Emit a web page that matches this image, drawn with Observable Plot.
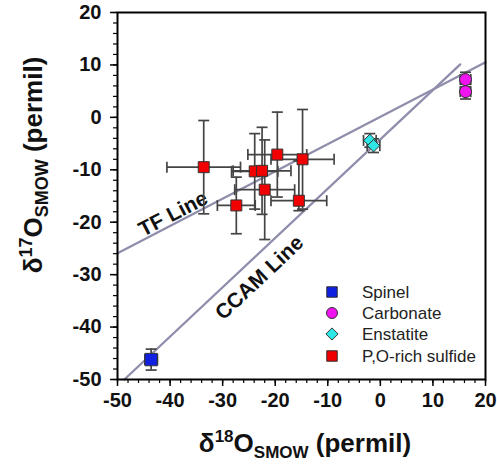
<!DOCTYPE html>
<html><head><meta charset="utf-8">
<script src="https://cdn.jsdelivr.net/npm/d3@7"></script>
<script src="https://cdn.jsdelivr.net/npm/@observablehq/plot@0.6"></script>
<style>body{margin:0;background:#fff}#chart svg{display:block}</style>
</head><body><div id="chart"></div>
<script>
// ---- Data ----
// P,O-rich sulfide
const sulfideX    = [-33.6, -23.9, -22.5, -19.6, -14.8, -22.0, -27.4, -15.5];
const sulfideY    = [ -9.5, -10.3, -10.2,  -7.1,  -8.0, -13.8, -16.8, -15.9];
const sulfideXErr = [  7.0,   4.4,   5.5,   5.6,   6.0,   5.7,   3.6,   5.3];
const sulfideYHi  = [ -0.6,  -3.1,  -1.9,   1.0,   1.5,  -4.3, -11.4,  -8.3];
const sulfideYLo  = [-18.4, -17.5, -18.5, -15.2, -17.5, -23.3, -22.2, -17.8];
// Spinel
const spinelX = [-43.6], spinelY = [-46.2], spinelXErr = [1.2], spinelYErr = [2.0];
// Carbonate
const carbX = [16.2, 16.2], carbY = [7.2, 4.9], carbXErr = [1.0, 1.0], carbYErr = [1.4, 1.4];
// Enstatite
const enstX = [-2.0, -1.3], enstY = [-4.4, -5.4], enstXErr = [1.2, 1.2], enstYErr = [1.3, 1.3];
// Reference lines (end points)
const tfX = [-50, 20], tfY = [-25.9, 10.5];
const ccamX = [-48.7, 15.2], ccamY = [-50, 10.1];
// Line labels
const lineLabels = ["TF Line", "CCAM Line"];
const lineLabelX = [-39.4, -23.0], lineLabelY = [-18.4, -30.6];
// Legend
const legendNames = ["Spinel", "Carbonate", "Enstatite", "P,O-rich sulfide"];
// Ticks
const majorTicks = [-50, -40, -30, -20, -10, 0, 10, 20];
const minorTicks = d3.range(-50, 21, 2);

// ---- Build rows ----
const sulfide = sulfideX.map((x, i) => ({x, y: sulfideY[i], xLo: x - sulfideXErr[i], xHi: x + sulfideXErr[i], yLo: sulfideYLo[i], yHi: sulfideYHi[i]}));
const sym = (xs, ys, xe, ye) => xs.map((x, i) => ({x, y: ys[i], xLo: x - xe[i], xHi: x + xe[i], yLo: ys[i] - ye[i], yHi: ys[i] + ye[i]}));
const spinel = sym(spinelX, spinelY, spinelXErr, spinelYErr);
const carb = sym(carbX, carbY, carbXErr, carbYErr);
const enst = sym(enstX, enstY, enstXErr, enstYErr);
const all = [...sulfide, ...spinel, ...carb, ...enst];
const tf = tfX.map((x, i) => ({x, y: tfY[i]}));
const ccam = ccamX.map((x, i) => ({x, y: ccamY[i]}));
const labels = lineLabels.map((t, i) => ({t, x: lineLabelX[i], y: lineLabelY[i]}));

const hCap = {draw(ctx, size) { const w = Math.sqrt(size / Math.PI); ctx.moveTo(-w, 0); ctx.lineTo(w, 0); }};
const vCap = {draw(ctx, size) { const w = Math.sqrt(size / Math.PI); ctx.moveTo(0, -w); ctx.lineTo(0, w); }};

const errColor = "#444", errW = 1.7, lineColor = "#8e8eac";
const W = 497, H = 466, mL = 117, mR = 12, mT = 12, mB = 87;
const fmt = d => String(d);

const plot = Plot.plot({
  width: W, height: H,
  marginLeft: mL, marginRight: mR, marginTop: mT, marginBottom: mB,
  x: {domain: [-50, 20], label: null},
  y: {domain: [-50, 20], label: null},
  style: {fontFamily: "Arial, 'Liberation Sans', sans-serif", fontSize: "20px", fontWeight: "bold", color: "#111", background: "#fff"},
  marks: [
    Plot.line(tf, {x: "x", y: "y", stroke: lineColor, strokeWidth: 2.3}),
    Plot.line(ccam, {x: "x", y: "y", stroke: lineColor, strokeWidth: 2.3}),
    Plot.text(labels, {x: "x", y: "y", text: "t", rotate: (d, i) => i === 0 ? -27.4 : -43.2, fontSize: 21, fontWeight: "bold", fill: "#111"}),
    // error bars
    Plot.ruleX(all, {x: "x", y1: "yLo", y2: "yHi", stroke: errColor, strokeWidth: errW}),
    Plot.ruleY(all, {y: "y", x1: "xLo", x2: "xHi", stroke: errColor, strokeWidth: errW}),
    Plot.dot(all, {x: "x", y: "yLo", symbol: hCap, r: 5.5, fill: "none", stroke: errColor, strokeWidth: errW}),
    Plot.dot(all, {x: "x", y: "yHi", symbol: hCap, r: 5.5, fill: "none", stroke: errColor, strokeWidth: errW}),
    Plot.dot(all, {x: "xLo", y: "y", symbol: vCap, r: 5.5, fill: "none", stroke: errColor, strokeWidth: errW}),
    Plot.dot(all, {x: "xHi", y: "y", symbol: vCap, r: 5.5, fill: "none", stroke: errColor, strokeWidth: errW}),
    // markers
    Plot.dot(spinel, {x: "x", y: "y", symbol: "square", r: 7, fill: "#1020e0", stroke: "#333", strokeWidth: 1}),
    Plot.dot(carb, {x: "x", y: "y", symbol: "circle", r: 6, fill: "#f014f0", stroke: "#333", strokeWidth: 1}),
    Plot.dot(enst, {x: "x", y: "y", symbol: "diamond2", r: 5.6, fill: "#2ee6e6", stroke: "#333", strokeWidth: 1}),
    Plot.dot(sulfide, {x: "x", y: "y", symbol: "square", r: 6.2, fill: "#f00000", stroke: "#333", strokeWidth: 1}),
    Plot.frame({stroke: "#000", strokeWidth: 2}),
    // axes
    Plot.axisX({ticks: majorTicks, tickSize: 7, tickPadding: 6, tickFormat: fmt, stroke: "#000", strokeWidth: 1.5, label: null}),
    Plot.axisX({ticks: minorTicks, tickSize: 4, tickFormat: () => "", stroke: "#000", strokeWidth: 1.2, label: null}),
    Plot.axisY({ticks: majorTicks, tickSize: 7, tickPadding: 9, tickFormat: fmt, stroke: "#000", strokeWidth: 1.5, label: null}),
    Plot.axisY({ticks: minorTicks, tickSize: 4, tickFormat: () => "", stroke: "#000", strokeWidth: 1.2, label: null})
  ]
});

const svg = d3.select(plot);
const font = "Arial, 'Liberation Sans', sans-serif";
function title(g, sup, main, small) {
  const t = g.append("text").attr("text-anchor", "middle").attr("font-family", font)
    .attr("font-weight", "bold").attr("font-size", main).attr("fill", "#111");
  t.append("tspan").text("δ");
  t.append("tspan").attr("font-size", small).attr("dy", -main * 0.38).text(sup);
  t.append("tspan").attr("dy", main * 0.38).text("O");
  t.append("tspan").attr("font-size", small).attr("dy", main * 0.22).text("SMOW");
  t.append("tspan").attr("dy", -main * 0.22).text(" (permil)");
}
title(svg.append("g").attr("transform", "translate(305,452)"), "18", 26, 17);
title(svg.append("g").attr("transform", "translate(42,165) rotate(-90)"), "17", 26, 18);

// legend
const legSyms = [d3.symbolSquare, d3.symbolCircle, d3.symbolDiamond2, d3.symbolSquare];
const legSizes = [110, 95, 95, 110];
const legFills = ["#1020e0", "#f014f0", "#2ee6e6", "#f00000"];
const legRowY = [292, 313, 334, 356];
const leg = svg.append("g").attr("text-anchor", "start");
legendNames.forEach((name, i) => {
  leg.append("path").attr("d", d3.symbol(legSyms[i], legSizes[i])())
    .attr("transform", `translate(332,${legRowY[i]})`).attr("fill", legFills[i]).attr("stroke", "#333");
  leg.append("text").attr("x", 362).attr("y", legRowY[i]).attr("dy", "0.35em").attr("text-anchor", "start")
    .attr("font-family", font).attr("font-size", 17).attr("font-weight", "normal").attr("fill", "#222").text(name);
});

document.getElementById("chart").appendChild(plot);
</script>
</body></html>
